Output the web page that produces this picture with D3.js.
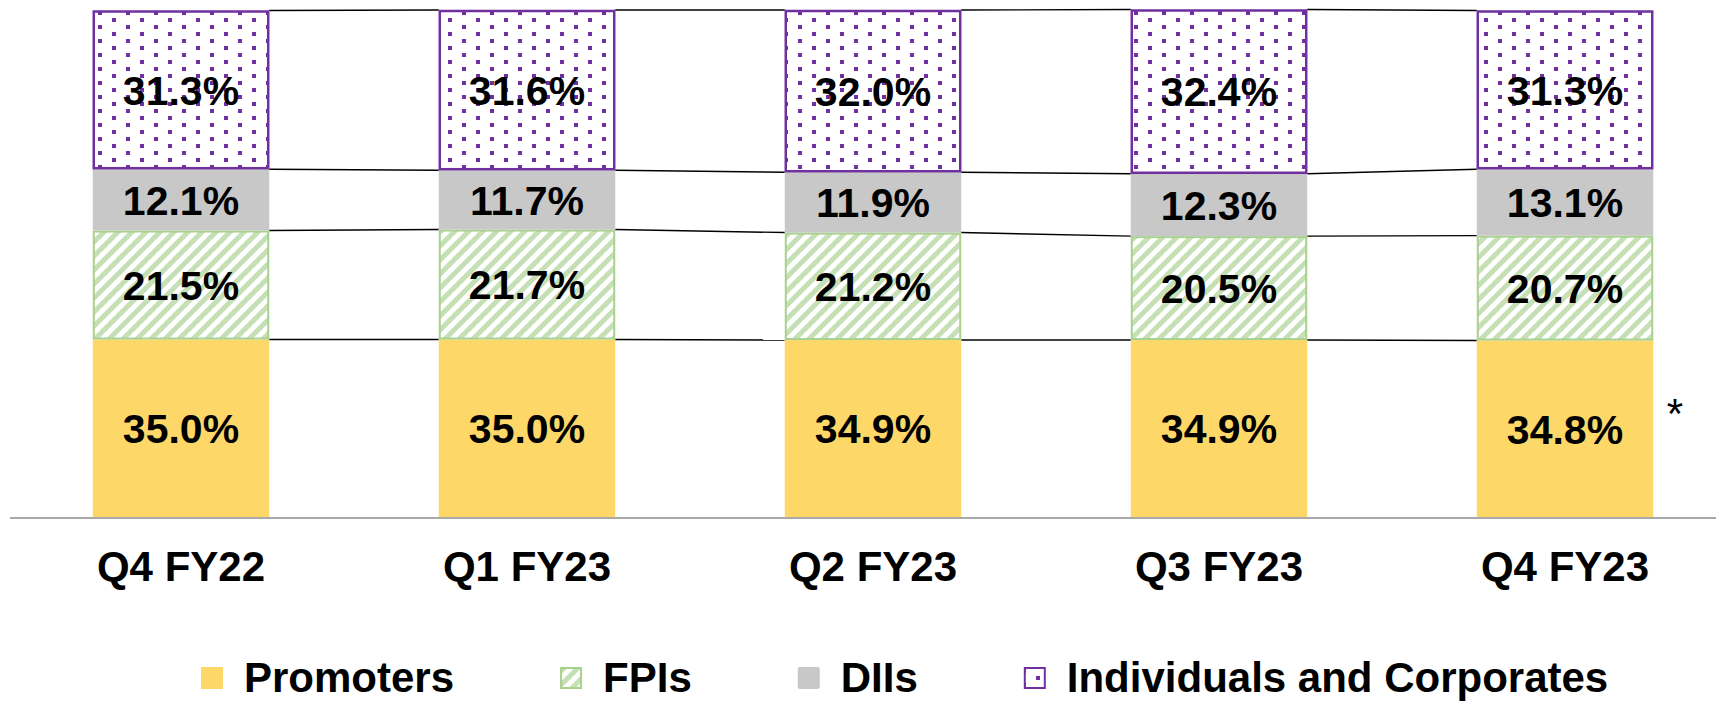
<!DOCTYPE html>
<html>
<head>
<meta charset="utf-8">
<script src="https://cdn.jsdelivr.net/npm/d3@7"></script>
<style>
  body { margin: 0; background: #fff; }
  svg text { font-family: "Liberation Sans", Arial, sans-serif; font-weight: bold; fill: #000; }
</style>
</head>
<body>
<script>
// data
const categories = ['Q4 FY22', 'Q1 FY23', 'Q2 FY23', 'Q3 FY23', 'Q4 FY23'];
const promoters = [35.0, 35.0, 34.9, 34.9, 34.8];
const fpis = [21.5, 21.7, 21.2, 20.5, 20.7];
const diis = [12.1, 11.7, 11.9, 12.3, 13.1];
const individuals = [31.3, 31.6, 32.0, 32.4, 31.3];
const seriesNames = ['Promoters', 'FPIs', 'DIIs', 'Individuals and Corporates'];

const width = 1716, height = 701;

const rows = categories.map((c, i) => ({
  cat: c,
  'Promoters': promoters[i],
  'FPIs': fpis[i],
  'DIIs': diis[i],
  'Individuals and Corporates': individuals[i]
}));

const svg = d3.select('body').append('svg')
  .attr('width', width)
  .attr('height', height);

// patterns
const defs = svg.append('defs');
const stripes = defs.append('pattern')
  .attr('id', 'stripes')
  .attr('patternUnits', 'userSpaceOnUse')
  .attr('width', 14).attr('height', 14);
stripes.append('rect').attr('width', 14).attr('height', 14).attr('fill', '#fff');
stripes.append('path')
  .attr('d', 'M-7,7 L7,-7 M0,14 L14,0 M7,21 L21,7')
  .attr('stroke', '#c5e0b4').attr('stroke-width', 5);

const dots = defs.append('pattern')
  .attr('id', 'dots')
  .attr('patternUnits', 'userSpaceOnUse')
  .attr('x', 2).attr('y', 2)
  .attr('width', 28).attr('height', 14);
dots.append('rect').attr('width', 28).attr('height', 14).attr('fill', '#fff');
dots.append('rect').attr('x', 12).attr('y', 9).attr('width', 4).attr('height', 4).attr('fill', '#7030a0');
dots.append('rect').attr('x', 26).attr('y', 2).attr('width', 2).attr('height', 4).attr('fill', '#7030a0');
dots.append('rect').attr('x', 0).attr('y', 2).attr('width', 2).attr('height', 4).attr('fill', '#7030a0');

const styles = {
  'Promoters': {fill: '#fdd868', stroke: 'none'},
  'FPIs': {fill: 'url(#stripes)', stroke: '#a9d18e'},
  'DIIs': {fill: '#c8c8c8', stroke: 'none'},
  'Individuals and Corporates': {fill: 'url(#dots)', stroke: '#7030a0'}
};

// scales
const x = d3.scaleBand().domain(categories).range([8, 1738])
  .paddingInner(0.49).paddingOuter(0.245);
const y = d3.scaleLinear().domain([0, 100]).range([517, 10]);

const stacked = d3.stack().keys(seriesNames)(rows);

// connector lines between bars
const links = svg.append('g');
stacked.forEach(layer => {
  for (let i = 0; i < categories.length - 1; i++) {
    links.append('line')
      .attr('x1', x(categories[i]) + x.bandwidth())
      .attr('x2', x(categories[i + 1]))
      .attr('y1', y(layer[i][1]))
      .attr('y2', y(layer[i + 1][1]))
      .attr('stroke', '#000')
      .attr('stroke-width', 1.4);
  }
});

// bars
const inset = k => styles[k].stroke === 'none' ? 0 : 1;
const layers = svg.append('g').selectAll('g').data(stacked).join('g');
layers.selectAll('rect')
  .data(d => d.map(p => Object.assign(p, {key: d.key})))
  .join('rect')
  .attr('x', d => x(d.data.cat) + inset(d.key))
  .attr('width', d => x.bandwidth() - 2 * inset(d.key))
  .attr('y', d => y(d[1]) + inset(d.key))
  .attr('height', d => y(d[0]) - y(d[1]) - 2 * inset(d.key))
  .attr('fill', d => styles[d.key].fill)
  .attr('stroke', d => styles[d.key].stroke)
  .attr('stroke-width', d => d.key === 'FPIs' ? 2 : 2.5);

// value labels
layers.selectAll('text')
  .data(d => d)
  .join('text')
  .attr('x', d => x(d.data.cat) + x.bandwidth() / 2)
  .attr('y', d => (y(d[0]) + y(d[1])) / 2)
  .attr('dy', '0.36em')
  .attr('text-anchor', 'middle')
  .style('font-size', '41px')
  .text(d => d3.format('.1f')(d[1] - d[0]) + '%');

// axis line
svg.append('line')
  .attr('x1', 10).attr('x2', width)
  .attr('y1', 518).attr('y2', 518)
  .attr('stroke', '#8c8c8c').attr('stroke-width', 1.5);

// category labels
const xaxis = svg.append('g').attr('transform', 'translate(0,518)')
  .call(d3.axisBottom(x).tickSize(0).tickPadding(0));
xaxis.select('.domain').remove();
xaxis.selectAll('text')
  .attr('y', 63).attr('dy', null)
  .style('font-size', '42px');

// footnote marker
svg.append('text')
  .attr('x', 1675).attr('y', 428)
  .attr('text-anchor', 'middle')
  .style('font-size', '42px')
  .style('font-weight', 'normal')
  .text('*');

// legend
const legend = svg.append('g');
let lx = 201;
seriesNames.forEach(name => {
  const st = styles[name];
  legend.append('rect')
    .attr('x', lx + (st.stroke === 'none' ? 0 : 1))
    .attr('y', 667 + (st.stroke === 'none' ? 0 : 1))
    .attr('width', st.stroke === 'none' ? 22 : 20)
    .attr('height', st.stroke === 'none' ? 22 : 20)
    .attr('rx', name === 'DIIs' ? 2 : 0)
    .attr('fill', st.fill)
    .attr('stroke', st.stroke)
    .attr('stroke-width', 2);
  const t = legend.append('text')
    .attr('x', lx + 43).attr('y', 692)
    .style('font-size', '42px')
    .text(name);
  lx = lx + 43 + t.node().getComputedTextLength() + 106;
});
</script>
</body>
</html>
